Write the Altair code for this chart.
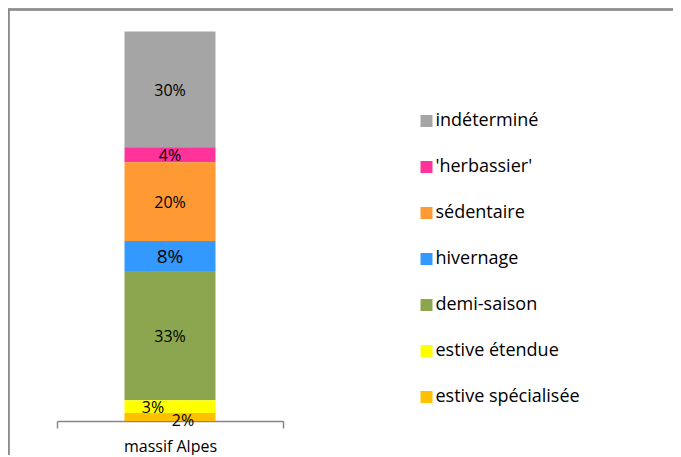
import altair as alt
import pandas as pd

category = ["massif Alpes"]
series = ["indéterminé", "'herbassier'", "sédentaire", "hivernage",
          "demi-saison", "estive étendue", "estive spécialisée"]
values = [0.297, 0.0385, 0.202, 0.077, 0.331, 0.033, 0.0205]
colors = ["#A5A5A5", "#FF3399", "#FF9933", "#3399FF", "#8BA64F", "#FFFF00", "#FFC000"]

n = len(series)
df = pd.DataFrame({
    "cat": category * n,
    "series": series,
    "value": values,
    "rank": [n - 1 - i for i in range(n)],  # bottom of stack = last series
})

FONT = "Open Sans"
yscale = alt.Scale(domain=[0, 1])

xenc = alt.X("cat:N", scale=alt.Scale(paddingInner=0, paddingOuter=0),
             axis=alt.Axis(title=None, labelAngle=0, tickBand="extent", tickSize=7,
                           domainColor="#868686", tickColor="#868686",
                           domainWidth=1.5, tickWidth=1.5,
                           labelFont=FONT, labelFontSize=16, labelColor="black",
                           labelPadding=10))

bars = alt.Chart(df).mark_bar(size=91).encode(
    x=xenc,
    y=alt.Y("value:Q", stack="zero", scale=yscale, axis=None),
    color=alt.Color("series:N", scale=alt.Scale(domain=series, range=colors),
                    legend=alt.Legend(title=None, orient="none", legendX=360.5, legendY=81,
                                      symbolType="square", symbolSize=144,
                                      symbolStrokeWidth=0, labelFont=FONT,
                                      labelFontSize=18, labelColor="black",
                                      labelOffset=0, rowPadding=28)),
    order=alt.Order("rank:Q", sort="ascending"),
)

base_text = alt.Chart(df).transform_stack(
    stack="value", groupby=["cat"],
    sort=[alt.SortField("rank", order="ascending")],
    as_=["v0", "v1"],
).transform_calculate(mid="(datum.v0 + datum.v1) / 2")

def label_layer(names, size=16, dx=0, dy=0):
    return base_text.transform_filter(
        alt.FieldOneOfPredicate(field="series", oneOf=names)
    ).mark_text(font=FONT, fontSize=size, color="black", dx=dx, dy=dy).encode(
        x="cat:N",
        y=alt.Y("mid:Q", scale=yscale),
        text=alt.Text("value:Q", format=".0%"),
    )

lab_main = label_layer(["indéterminé", "'herbassier'", "sédentaire", "demi-saison"], 16, dy=1.5)
lab_hiv = label_layer(["hivernage"], 19, dy=1)
lab_ete = label_layer(["estive étendue"], 16, dx=-17, dy=1.5)
lab_spe = label_layer(["estive spécialisée"], 16, dx=13, dy=3.5)

frame = alt.Chart(df).mark_rect(filled=False, stroke="#8C8C8C", strokeWidth=1.5).encode(
    x=alt.value(-48.5), x2=alt.value(1000), y=alt.value(-21.5), y2=alt.value(1000)
)

chart = alt.layer(frame, bars, lab_main, lab_hiv, lab_ete, lab_spe).properties(
    width=226, height=390,
    autosize=alt.AutoSizeParams(type="none"),
    padding={"left": 49, "top": 23, "right": 390, "bottom": 34},
    background="white",
).configure(font=FONT).configure_view(stroke=None, strokeWidth=0)

chart.save("out.html", embed_options={"renderer": "svg", "actions": False})
